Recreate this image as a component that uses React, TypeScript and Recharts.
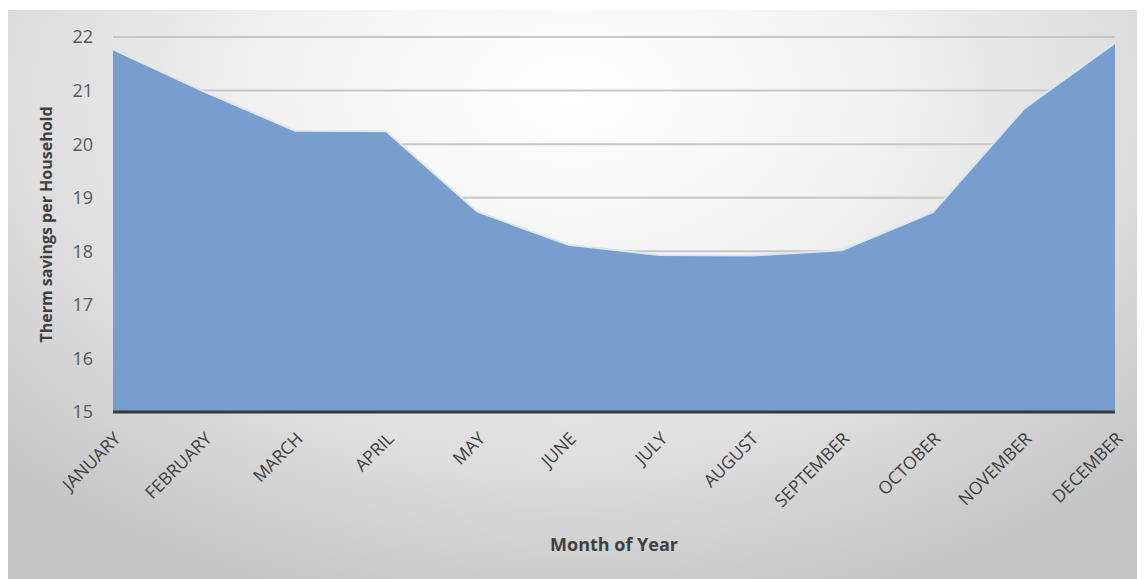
import React from 'react';
import {
  AreaChart, Area, XAxis, YAxis, CartesianGrid, ReferenceLine, Label
} from 'recharts';

// months on the category axis
const months = [
  'JANUARY', 'FEBRUARY', 'MARCH', 'APRIL', 'MAY', 'JUNE',
  'JULY', 'AUGUST', 'SEPTEMBER', 'OCTOBER', 'NOVEMBER', 'DECEMBER'
];

// therm savings per household
const savings = [21.77, 20.98, 20.25, 20.24, 18.74, 18.12, 17.93, 17.92, 18.02, 18.73, 20.66, 21.89];

const yTicks = [15, 16, 17, 18, 19, 20, 21, 22];

const data = months.map((m, i) => ({ month: m, value: savings[i] }));

const FONT = '"Open Sans", sans-serif';

export default function App() {
  return (
    <div style={{ paddingTop: 2 }}>
      <div
        style={{
          width: 1129,
          height: 569,
          background:
            'radial-gradient(ellipse 72% 95% at 50% 15%, #ffffff 0%, #f3f3f3 35%, #dcdcdc 70%, #c4c4c4 100%)',
        }}
      >
        <AreaChart
          width={1129}
          height={569}
          data={data}
          margin={{ top: 27, right: 22, left: 0, bottom: 0 }}
        >
          <CartesianGrid vertical={false} stroke="#c6c6c6" strokeWidth={2} />
          <XAxis
            dataKey="month"
            interval={0}
            height={167}
            axisLine={false}
            tickLine={false}
            tickSize={0}
            tickMargin={19}
            angle={-45}
            textAnchor="end"
            tick={{ fontSize: 17.5, fill: '#404040', fontFamily: FONT }}
          >
            <Label
              value="Month of Year"
              position="insideTop"
              offset={126}
              style={{ fontSize: 18, fontWeight: 700, fill: '#404040', fontFamily: FONT }}
            />
          </XAxis>
          <YAxis
            domain={[15, 22]}
            ticks={yTicks}
            width={105}
            axisLine={false}
            tickLine={false}
            tickSize={0}
            tickMargin={20}
            tick={{ fontSize: 18, fill: '#595959', fontFamily: FONT }}
          >
            <Label
              value="Therm savings per Household"
              angle={-90}
              position="center"
              dx={-14}
              style={{ fontSize: 16, fontWeight: 700, fill: '#404040', fontFamily: FONT, textAnchor: 'middle' }}
            />
          </YAxis>
          <Area
            type="linear"
            dataKey="value"
            baseValue={15}
            stroke="#dce6f2"
            strokeWidth={2}
            fill="#779ecc"
            fillOpacity={1}
            isAnimationActive={false}
          />
          <ReferenceLine y={15} stroke="#383838" strokeWidth={3} />
        </AreaChart>
      </div>
    </div>
  );
}
